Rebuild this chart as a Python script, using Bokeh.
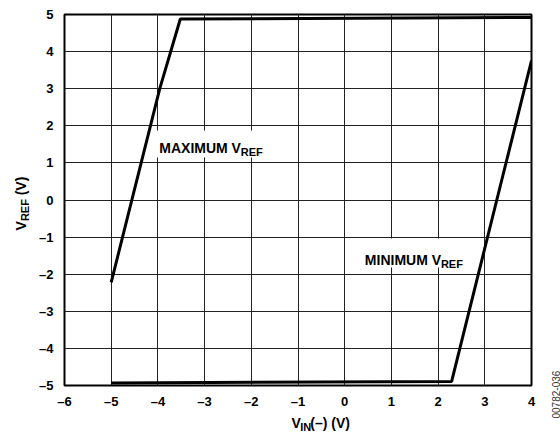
import math
from bokeh.plotting import figure
from bokeh.models import Label, FixedTicker
from bokeh.layouts import row, column
from bokeh.embed import file_html
from bokeh.resources import INLINE

# ---- data ----
x_ticks = [-6, -5, -4, -3, -2, -1, 0, 1, 2, 3, 4]
y_ticks = [-5, -4, -3, -2, -1, 0, 1, 2, 3, 4, 5]
x_tick_labels = ["–6", "–5", "–4", "–3", "–2", "–1", "0", "1", "2", "3", "4"]
y_tick_labels = ["–5", "–4", "–3", "–2", "–1", "0", "1", "2", "3", "4", "5"]

max_vin = [-5.0, -3.96, -3.52, 4.0]
max_vref = [-2.22, 3.0, 4.88, 4.92]

min_vin = [-5.0, 2.29, 4.0]
min_vref = [-4.93, -4.89, 3.76]

FONT = "Liberation Sans"

# ---- layout geometry (page pixels) ----
YW = 36            # left strip for y title
SW = 20            # right strip for side code
MW, MH = 560 - YW - SW, 416
XH = 434 - MH      # bottom strip for x title
ML, MR, MT, MB = 27, 9, 14, 31

p = figure(width=MW, height=MH, x_range=(-6, 4), y_range=(-5, 5),
           output_backend="svg", toolbar_location=None,
           min_border_left=ML, min_border_right=MR,
           min_border_top=MT, min_border_bottom=MB)
p.background_fill_color = "white"
p.border_fill_color = "white"
p.outline_line_color = "black"
p.outline_line_width = 2

FL, FR, FT, FB = YW + ML, YW + MW - MR, MT, MH - MB
def dx(px):
    return -6 + (px - FL) / (FR - FL) * 10
def dy(py):
    return 5 - (py - FT) / (FB - FT) * 10

# grid
p.xgrid.ticker = FixedTicker(ticks=x_ticks[1:-1])
p.ygrid.ticker = FixedTicker(ticks=y_ticks[1:-1])
for g in (p.xgrid, p.ygrid):
    g.grid_line_color = "#222222"
    g.grid_line_width = 1

# axes
p.xaxis.ticker = FixedTicker(ticks=x_ticks)
p.yaxis.ticker = FixedTicker(ticks=y_ticks)
p.xaxis.major_label_overrides = {t: l for t, l in zip(x_ticks, x_tick_labels)}
p.yaxis.major_label_overrides = {t: l for t, l in zip(y_ticks, y_tick_labels)}
for ax in (p.xaxis, p.yaxis):
    ax.axis_line_color = None
    ax.major_tick_line_color = None
    ax.minor_tick_line_color = None
    ax.major_label_text_font = FONT
    ax.major_label_text_font_style = "bold"
    ax.major_label_text_font_size = "13px"
    ax.major_label_text_color = "black"
p.xaxis.major_label_standoff = 2
p.yaxis.major_label_standoff = 5

# white boxes behind the annotations
p.quad(left=[dx(155), dx(358)], right=[dx(280), dx(477)],
       top=[dy(130), dy(238)], bottom=[dy(157), dy(267)],
       fill_color="white", line_color=None)

# data lines
p.line(max_vin, max_vref, line_color="black", line_width=3)
p.line(min_vin, min_vref, line_color="black", line_width=3)

def lab(fig, x, y, text, size, angle=0.0, color="black", style="bold"):
    fig.add_layout(Label(x=x, y=y, text=text, text_font=FONT, text_font_style=style,
                         text_font_size=size, text_color=color, angle=angle,
                         text_align="left", text_baseline="alphabetic"))

# annotations inside the plot
lab(p, dx(158), dy(147), "MAXIMUM V", "14px")
lab(p, dx(239.7), dy(151.5), "REF", "11px")
lab(p, dx(364), dy(259), "MINIMUM V", "14px")
lab(p, dx(440.2), dy(263.5), "REF", "11px")

def blank(w, h):
    f = figure(width=w, height=h, x_range=(0, w), y_range=(0, h),
               output_backend="svg", toolbar_location=None,
               x_axis_location=None, y_axis_location=None, min_border=0)
    f.outline_line_color = None
    f.background_fill_color = "white"
    f.border_fill_color = "white"
    f.grid.visible = False
    return f

A = math.pi / 2

# y axis title strip
yf = blank(YW, 434)
lab(yf, 20, 434 - 230, "V", "14px", angle=A)
lab(yf, 24, 434 - 220.6, "REF", "11px", angle=A)
lab(yf, 20, 434 - 194.8, "(V)", "14px", angle=A)

# x axis title strip (page y from MH to 434)
xf = blank(MW, XH)
lab(xf, 281 - YW, 434 - 422, "V", "14px")
lab(xf, 290.3 - YW, 434 - 426, "IN", "11px")
lab(xf, 301.3 - YW, 434 - 422, "(–) (V)", "14px")

# side code strip
sf = blank(SW, 434)
lab(sf, 555 - (560 - SW), 434 - 418, "00782-036", "10px", angle=A, color="#333333", style="normal")

layout = row(yf, column(p, xf), sf)
open("out.html", "w").write(file_html(layout, INLINE))
